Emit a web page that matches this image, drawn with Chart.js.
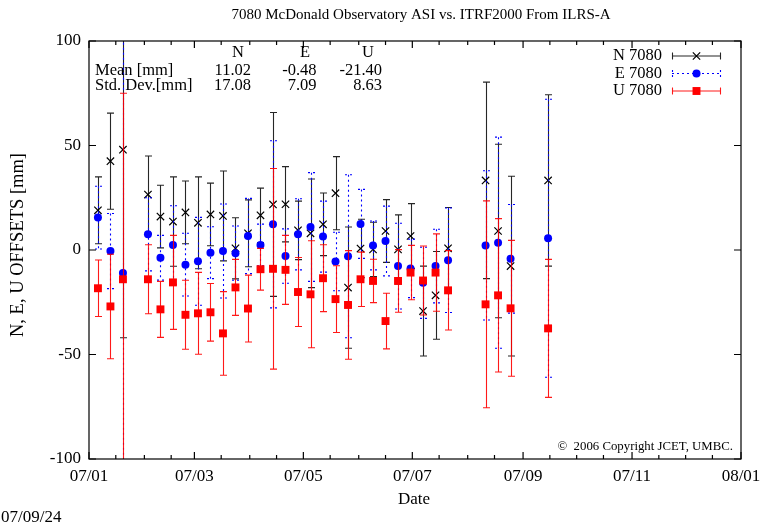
<!DOCTYPE html>
<html>
<head>
<meta charset="utf-8">
<script src="https://cdn.jsdelivr.net/npm/chart.js@4.4.0/dist/chart.umd.min.js"></script>
<style>
html, body { margin: 0; padding: 0; background: #fff; }
#wrap { width: 760px; height: 529px; position: relative; }
</style>
</head>
<body>
<div id="wrap"><canvas id="offsetChart"></canvas></div>
<script>
// days since 2007-01-01 of the weekly solutions
const days = [5, 12, 19, 33, 40, 47, 54, 61, 68, 75, 82, 89, 96, 103, 110, 117,
    124, 131, 138, 145, 152, 159, 166, 173, 180, 187, 194, 201, 222, 229, 236, 257];

const nVals = [19, 42.5, 48, 26.5, 16, 13.6, 18, 13, 17, 16.3, 0.8, 8, 16.6, 21.8, 21.9, 9.4,
    8, 12.3, 27.2, -18, 0.7, 0.3, 9.1, 0.3, 6.7, -29.2, -21.7, 0.8, 33.3, 9.1, -7.7, 33.3];
const nErrs = [16, 23, 90, 18.5, 15, 21.4, 15, 22, 15, 21.5, 14.6, 16, 13, 44, 18, 14,
    26, 15, 17.5, 29, 14, 13, 15, 16.5, 15.5, 21.5, 21, 19.5, 47, 41.5, 43, 41];

const eVals = [15.5, -0.5, -11, 7.5, -3.7, 2.4, -7, -5.4, -1.3, -0.5, -1.5, 6.7, 2.4, 12.3, -2.9, 7.5,
    11, 6.4, -5.5, -3, 12.5, 2.2, 4.3, -7.7, -8.8, -15.7, -7.7, -4.9, 2.2, 3.5, -4.2, 5.6];
const eErrs = [15, 18, 115, 17.5, 10.7, 18.8, 15, 21, 12.4, 22.5, 13, 18, 10, 40, 13, 17,
    26, 17, 14, 39, 16.5, 11.7, 16.7, 20.5, 14, 17, 17.6, 25, 35.7, 50.5, 26, 66.5];

const uVals = [-18.3, -27, -14, -14, -28.4, -15.5, -31, -30.3, -29.8, -39.9, -17.9, -28, -9.2, -9, -9.5, -20.1,
    -21.2, -13.5, -23.5, -26.3, -14, -14.8, -34, -14.8, -10.8, -14.6, -10.8, -19.3, -26, -21.7, -27.9, -37.5];
const uErrs = [13.5, 25, 89, 16.5, 13.4, 22.5, 16.5, 19.6, 13.8, 20, 13.4, 16, 10, 48, 16.5, 16.5,
    25.6, 16, 16, 26, 13, 10.4, 13.3, 15, 13, 16.5, 18.5, 19, 49.5, 36.7, 32.5, 33];

const tickDays = [0, 59, 120, 181, 243, 304, 365];
const tickLabels = ['07/01', '07/03', '07/05', '07/07', '07/09', '07/11', '08/01'];
const minorDays = [15, 31, 46, 74, 90, 105, 135, 151, 166, 196, 212, 227, 258, 273, 288, 319, 334, 349];
const yTicks = [-100, -50, 0, 50, 100];

const statCols = ['N', 'E', 'U'];
const meanVals = ['11.02', '-0.48', '-21.40'];
const stdVals = ['17.08', '7.09', '8.63'];

const serif = '"Liberation Serif", "DejaVu Serif", serif';

function points(vals) {
    return days.map((d, i) => ({ x: d, y: vals[i] }));
}

// error bars, drawn just before each dataset's own markers
const errorBars = {
    id: 'errorBars',
    beforeDatasetDraw(chart, args) {
        const ds = chart.data.datasets[args.index];
        const x = chart.scales.x, y = chart.scales.y;
        const a = chart.chartArea;
        const ctx = chart.ctx;
        ctx.save();
        ctx.beginPath();
        ctx.rect(a.left, a.top, a.right - a.left, a.bottom - a.top);
        ctx.clip();
        ctx.strokeStyle = ds.barColor;
        ctx.lineWidth = 1.1;
        ctx.setLineDash(ds.barDash);
        ds.data.forEach((p, i) => {
            const px = Math.round(x.getPixelForValue(p.x)) + 0.5;
            const top = y.getPixelForValue(p.y + ds.errors[i]);
            const bot = y.getPixelForValue(p.y - ds.errors[i]);
            ctx.beginPath();
            ctx.moveTo(px, top); ctx.lineTo(px, bot);
            ctx.moveTo(px - 3.5, top); ctx.lineTo(px + 3.5, top);
            ctx.moveTo(px - 3.5, bot); ctx.lineTo(px + 3.5, bot);
            ctx.stroke();
        });
        ctx.restore();
    }
};

// border, inward ticks and all the gnuplot texts
const frame = {
    id: 'frame',
    afterDraw(chart) {
        const ctx = chart.ctx;
        const a = chart.chartArea;
        const x = chart.scales.x, y = chart.scales.y;
        ctx.save();
        ctx.strokeStyle = '#000';
        ctx.lineWidth = 1.2;
        ctx.strokeRect(a.left, a.top, a.right - a.left, a.bottom - a.top);
        ctx.beginPath();
        tickDays.forEach(d => {
            const px = x.getPixelForValue(d);
            ctx.moveTo(px, a.bottom); ctx.lineTo(px, a.bottom - 7);
            ctx.moveTo(px, a.top); ctx.lineTo(px, a.top + 7);
        });
        minorDays.forEach(d => {
            const px = x.getPixelForValue(d);
            ctx.moveTo(px, a.bottom); ctx.lineTo(px, a.bottom - 4);
            ctx.moveTo(px, a.top); ctx.lineTo(px, a.top + 4);
        });
        yTicks.forEach(v => {
            const py = y.getPixelForValue(v);
            ctx.moveTo(a.left, py); ctx.lineTo(a.left + 7, py);
            ctx.moveTo(a.right, py); ctx.lineTo(a.right - 7, py);
        });
        ctx.stroke();

        ctx.fillStyle = '#000';
        ctx.textBaseline = 'middle';
        ctx.textAlign = 'center';
        ctx.font = '15px ' + serif;
        ctx.fillText('7080 McDonald Observatory ASI vs. ITRF2000 From ILRS-A', 421, 15);
        ctx.font = '17px ' + serif;
        ctx.fillText('Date', 414, 500);
        ctx.textAlign = 'left';
        ctx.fillText('07/09/24', 1, 518);

        ctx.save();
        ctx.translate(18, 245);
        ctx.rotate(-Math.PI / 2);
        ctx.textAlign = 'center';
        ctx.font = '18.5px ' + serif;
        ctx.fillText('N, E, U OFFSETS [mm]', 0, 0);
        ctx.restore();

        // statistics table
        ctx.font = '16.5px ' + serif;
        const colCenter = [238, 305, 368];
        const colRight = [251, 316.5, 382];
        ctx.textAlign = 'center';
        statCols.forEach((c, i) => ctx.fillText(c, colCenter[i], 53));
        ctx.textAlign = 'left';
        ctx.fillText('Mean [mm]', 95, 71);
        ctx.fillText('Std. Dev.[mm]', 95, 86);
        ctx.textAlign = 'right';
        meanVals.forEach((v, i) => ctx.fillText(v, colRight[i], 71));
        stdVals.forEach((v, i) => ctx.fillText(v, colRight[i], 86));

        // legend
        chart.data.datasets.forEach((ds, i) => {
            const ly = 56 + i * 17.5;
            ctx.textAlign = 'right';
            ctx.fillStyle = '#000';
            ctx.fillText(ds.label, 662, ly);
            ctx.save();
            ctx.strokeStyle = ds.barColor;
            ctx.lineWidth = 1.1;
            ctx.setLineDash(ds.barDash);
            ctx.beginPath();
            ctx.moveTo(672, ly); ctx.lineTo(721, ly);
            ctx.moveTo(672.5, ly - 3.5); ctx.lineTo(672.5, ly + 3.5);
            ctx.moveTo(720.5, ly - 3.5); ctx.lineTo(720.5, ly + 3.5);
            ctx.stroke();
            ctx.setLineDash([]);
            ctx.fillStyle = ds.backgroundColor;
            ctx.strokeStyle = ds.borderColor;
            ctx.lineWidth = ds.borderWidth;
            Chart.helpers.drawPoint(ctx, {
                pointStyle: ds.pointStyle, radius: ds.pointRadius, rotation: 0, borderWidth: ds.borderWidth
            }, 696.5, ly);
            ctx.restore();
        });

        ctx.font = '12.8px ' + serif;
        ctx.textAlign = 'right';
        ctx.fillStyle = '#000';
        ctx.fillText('\u00a9  2006 Copyright JCET, UMBC.', 733, 447);
        ctx.restore();
    }
};

new Chart(document.getElementById('offsetChart'), {
    type: 'scatter',
    data: {
        datasets: [{
            label: 'N 7080',
            data: points(nVals),
            errors: nErrs,
            barColor: 'rgba(0,0,0,0.85)',
            barDash: [],
            pointStyle: 'crossRot',
            pointRadius: 5.2,
            borderColor: '#000',
            backgroundColor: '#000',
            borderWidth: 1.2,
            order: 3
        }, {
            label: 'E 7080',
            data: points(eVals),
            errors: eErrs,
            barColor: '#0000ff',
            barDash: [2, 3],
            pointStyle: 'circle',
            pointRadius: 4,
            borderColor: '#0000ff',
            backgroundColor: '#0000ff',
            borderWidth: 0,
            order: 2
        }, {
            label: 'U 7080',
            data: points(uVals),
            errors: uErrs,
            barColor: 'rgba(255,0,0,0.9)',
            barDash: [],
            pointStyle: 'rect',
            pointRadius: 5.6,
            borderColor: '#ff0000',
            backgroundColor: '#ff0000',
            borderWidth: 0,
            order: 1
        }]
    },
    options: {
        responsive: true,
        maintainAspectRatio: false,
        animation: false,
        layout: { padding: { top: 41, right: 19, left: 0, bottom: 0 } },
        plugins: {
            legend: { display: false },
            tooltip: { enabled: false },
            title: { display: false }
        },
        scales: {
            x: {
                type: 'linear',
                min: 0,
                max: 365,
                grid: { display: false, drawTicks: false },
                border: { display: false },
                afterBuildTicks: scale => { scale.ticks = tickDays.map(v => ({ value: v })); },
                afterFit: scale => {
                    scale.height = 70;
                    scale.paddingLeft = 0; scale.paddingRight = 0;
                },
                ticks: {
                    autoSkip: false,
                    maxRotation: 0,
                    padding: 7,
                    color: '#000',
                    font: { family: serif, size: 17 },
                    callback: (v, i) => tickLabels[i]
                }
            },
            y: {
                min: -100,
                max: 100,
                grid: { display: false, drawTicks: false },
                border: { display: false },
                afterBuildTicks: scale => { scale.ticks = yTicks.map(v => ({ value: v })); },
                afterFit: scale => {
                    scale.width = 89;
                    scale.paddingTop = 0; scale.paddingBottom = 0;
                },
                ticks: {
                    padding: 8,
                    color: '#000',
                    font: { family: serif, size: 17 }
                }
            }
        }
    },
    plugins: [errorBars, frame]
});
</script>
</body>
</html>
